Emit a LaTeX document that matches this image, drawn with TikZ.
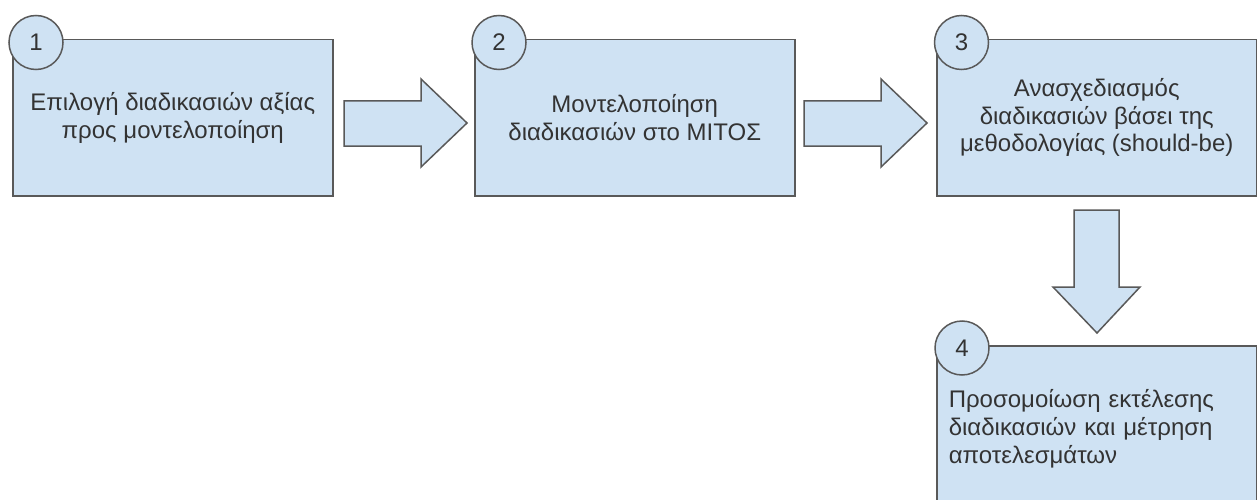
\documentclass[tikz,border=0pt]{standalone}
\usepackage{fontspec}
\setmainfont{Liberation Sans}
\definecolor{boxfill}{HTML}{CFE2F3}
\definecolor{boxline}{HTML}{595959}
\definecolor{txt}{HTML}{333333}
\begin{document}
\begin{tikzpicture}[x=1pt,y=-1pt,
  stepbox/.style={draw=boxline, line width=1.5pt, fill=boxfill, text=txt,
    minimum width=320pt, minimum height=156pt, anchor=north west,
    align=center, inner sep=0pt, font=\fontsize{24}{27.6}\selectfont},
  numcirc/.style={circle, draw=boxline, line width=1.5pt, fill=boxfill, text=txt,
    minimum size=54pt, inner sep=0pt, font=\fontsize{24}{27.6}\selectfont},
  blockarrow/.style={draw=boxline, line width=1.5pt, fill=boxfill, line join=miter}]
\useasboundingbox (0,0) rectangle (1257,500);
\clip (0,0) rectangle (1257,500);
\fill[white] (0,0) rectangle (1257,500);
% boxes
\node[stepbox] (b1) at (12,39) {Επιλογή διαδικασιών αξίας\\προς μοντελοποίηση};
\node[stepbox] (b2) at (474,39) {Μοντελοποίηση\\διαδικασιών στο ΜΙΤΟΣ};
\node[stepbox] (b3) at (936,39) {Ανασχεδιασμός\\διαδικασιών βάσει της\\μεθοδολογίας (should-be)};
\node[stepbox, minimum height=166pt, text width=296pt, align=left, inner xsep=12pt] (b4) at (936,345)
  {Προσομοίωση εκτέλεσης\\διαδικασιών και μέτρηση\\αποτελεσμάτων};
% number circles
\node[numcirc] (c1) at (36,42.5) {1};
\node[numcirc] (c2) at (499,42.5) {2};
\node[numcirc] (c3) at (961.5,42.5) {3};
\node[numcirc] (c4) at (962,348) {4};
% block arrows
\draw[blockarrow] (344,101) -- (421,101) -- (421,79) -- (467,123) -- (421,167) -- (421,146) -- (344,146) -- cycle;
\draw[blockarrow] (804,101) -- (881,101) -- (881,79) -- (927,123) -- (881,167) -- (881,146) -- (804,146) -- cycle;
\draw[blockarrow] (1074,210) -- (1119,210) -- (1119,287) -- (1140,287) -- (1097,333) -- (1053,287) -- (1074,287) -- cycle;
\end{tikzpicture}
\end{document}
